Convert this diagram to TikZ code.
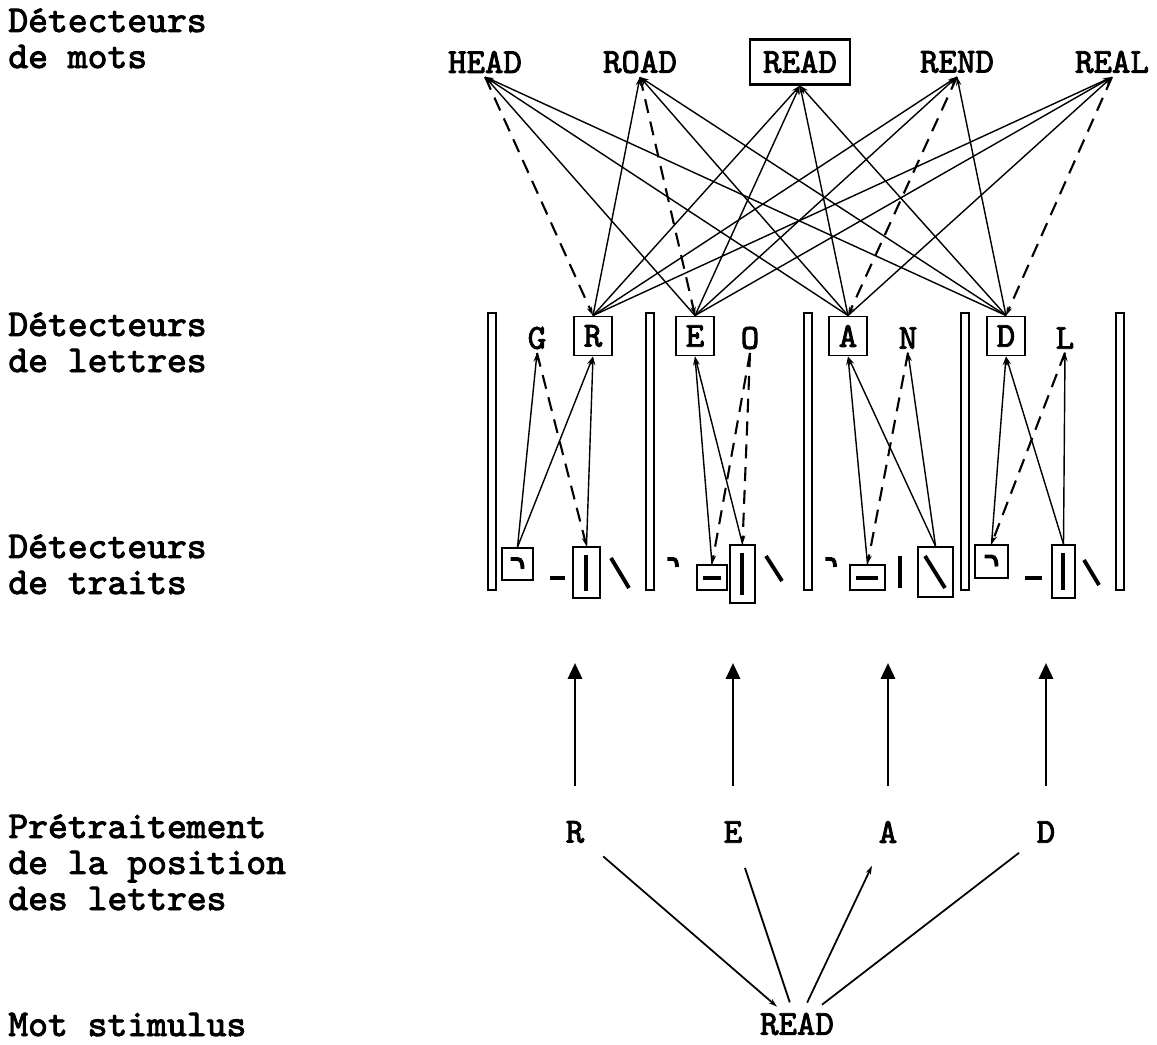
\documentclass[tikz,border=0pt]{standalone}
\usepackage{fontspec}
\setmonofont{lmmono10-regular.otf}[AutoFakeBold=2.5]
\usetikzlibrary{arrows.meta}

\newcommand{\tw}{\ttfamily\bfseries}

\tikzset{
  lab/.style={font=\fontsize{21.5}{20.5}\selectfont\tw, align=left, anchor=base west, inner sep=0pt},
  word/.style={font=\fontsize{20}{24}\selectfont\tw, inner sep=2pt},
  wordbox/.style={word, draw, line width=1.2pt, minimum width=2cm, minimum height=0.9cm},
  letter/.style={font=\fontsize{20}{24}\selectfont\tw, inner sep=2pt},
  letterbox/.style={letter, draw, line width=1.1pt, minimum width=0.76cm, minimum height=0.78cm},
  featbox/.style={draw, line width=1.1pt, inner sep=0pt},
  glyph/.style={line width=2.2pt},
  pillar/.style={draw, line width=0.9pt, fill=white},
  exc/.style={line width=0.8pt, -{Stealth[length=5pt,width=3pt]}},
  inh/.style={line width=1.2pt, dash pattern=on 8pt off 5pt, -{Stealth[length=5pt,width=3pt]}},
  inp/.style={line width=1.6pt, -{Triangle[length=9pt,width=8pt]}},
  crook/.pic={\draw[glyph] (-7,-5) -- (0,-5) to[out=0,in=90] (5,5);}
}

\begin{document}
\begin{tikzpicture}[x=0.02cm,y=-0.02cm]
  \useasboundingbox (0,0) rectangle (1157,1045);

  % niveaux
  \node[lab] (levMots) at (8,68) {Détecteurs\\de mots};
  \node[lab] (levLettres) at (8,372) {Détecteurs\\de lettres};
  \node[lab] (levTraits) at (8,594) {Détecteurs\\de traits};
  \node[lab] (levPos) at (8,910) {Prétraitement\\de la position\\des lettres};
  \node[lab] (levStim) at (8,1036) {Mot stimulus};

  % mots
  \node[word] (wHead) at (485,62) {HEAD};
  \node[word] (wRoad) at (640,62) {ROAD};
  \node[wordbox] (wRead) at (800,62) {READ};
  \node[word] (wRend) at (957,62) {REND};
  \node[word] (wReal) at (1112,62) {REAL};

  % piliers
  \foreach \x in {492,650,808,965,1120}
    \draw[pillar] (\x-4,313) rectangle (\x+4,590);

  % lettres
  \node[letter] (lG) at (537,338) {G};
  \node[letterbox] (lR) at (593,336) {R};
  \node[letterbox] (lE) at (695,336) {E};
  \node[letter] (lO) at (750,338) {O};
  \node[letterbox] (lA) at (848,336) {A};
  \node[letter] (lN) at (908,338) {N};
  \node[letterbox] (lD) at (1006,336) {D};
  \node[letter] (lL) at (1065,338) {L};

  % traits
  \node[featbox, minimum width=0.62cm, minimum height=0.64cm] (fRa) at (517.5,564) {};
  \node[featbox, minimum width=0.54cm, minimum height=1.02cm] (fRb) at (586.5,572.5) {};
  \node[featbox, minimum width=0.6cm, minimum height=0.5cm] (fEa) at (712,577.5) {};
  \node[featbox, minimum width=0.5cm, minimum height=1.16cm] (fEb) at (742.5,574) {};
  \node[featbox, minimum width=0.7cm, minimum height=0.5cm] (fAa) at (867.5,577.5) {};
  \node[featbox, minimum width=0.7cm, minimum height=1cm] (fAb) at (935.5,572) {};
  \node[featbox, minimum width=0.66cm, minimum height=0.66cm] (fDa) at (991.5,561.5) {};
  \node[featbox, minimum width=0.46cm, minimum height=1.06cm] (fDb) at (1063.5,571.5) {};

  \pic at (fRa) {crook};
  \draw[glyph] (550,578) -- (565,578);
  \draw[glyph] (586,555) -- (586,591);
  \draw[glyph] (611,558) -- (629,588);
  \pic[scale=0.8] at (673,563) {crook};
  \draw[glyph] (703,578) -- (721,578);
  \draw[glyph] (742,553) -- (742,595);
  \draw[glyph] (766,556) -- (782,581);
  \pic[scale=0.8] at (831,563) {crook};
  \draw[glyph] (856,578) -- (878,578);
  \draw[glyph] (900,556) -- (900,588);
  \draw[glyph] (925,556) -- (945,588);
  \pic at (fDa) {crook};
  \draw[glyph] (1025,578) -- (1042,578);
  \draw[glyph] (1063,553) -- (1063,590);
  \draw[glyph] (1084,560) -- (1099,585);

  % lettres -> mots
  \foreach \l/\w in {lE/wHead,lA/wHead,lD/wHead,
                     lR/wRoad,lA/wRoad,lD/wRoad,
                     lR/wRead,lE/wRead,lA/wRead,lD/wRead,
                     lR/wRend,lE/wRend,lD/wRend,
                     lR/wReal,lE/wReal,lA/wReal}
    \draw[exc] (\l.north) -- (\w.south);
  \foreach \w/\l in {wHead/lR,wRoad/lE,wRend/lA,wReal/lD}
    \draw[inh] (\w.south) -- (\l.north);

  % traits -> lettres
  \foreach \f/\l in {fRa/lG,fRa/lR,fRb/lR,fEa/lE,fEb/lE,fAa/lA,fAb/lA,fAb/lN,fDa/lD,fDb/lD,fDb/lL}
    \draw[exc] (\f.north) -- (\l.south);
  \foreach \l/\f in {lG/fRb,lO/fEa,lO/fEb,lN/fAa,lL/fDa}
    \draw[inh] (\l.south) -- (\f.north);

  % position des lettres
  \node[letter] (pR) at (575,832) {R};
  \node[letter] (pE) at (733,832) {E};
  \node[letter] (pA) at (888,832) {A};
  \node[letter] (pD) at (1046,832) {D};
  \node[word] (stim) at (797,1024) {READ};

  \foreach \p/\x in {pR/575,pE/733,pA/888,pD/1046} {
    \coordinate (t\p) at (\x,663);
    \draw[inp, shorten <=0.62cm] (\p) -- (t\p);
  }

  \draw[line width=1pt, -{Stealth[length=5pt,width=3pt]}, shorten <=0.4cm, shorten >=2pt] (pR) -- (stim);
  \draw[line width=1pt, shorten <=0.45cm, shorten >=4pt] (pE) -- (stim);
  \draw[line width=1pt, {Stealth[length=5pt,width=3pt]}-, shorten <=0.42cm, shorten >=4pt] (pA) -- (stim);
  \draw[line width=1pt, shorten <=0.35cm, shorten >=4pt] (pD) -- (stim);
\end{tikzpicture}
\end{document}
